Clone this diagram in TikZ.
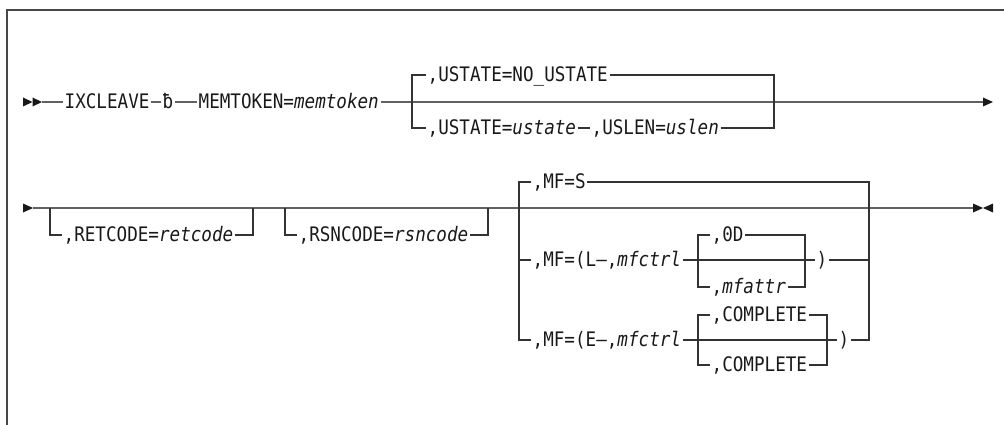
\documentclass[tikz,border=0pt]{standalone}
\usepackage{fontspec}
\setmonofont[FakeStretch=0.88]{DejaVu Sans Mono}
\usetikzlibrary{calc}
\tikzset{
  lbl/.style={font=\ttfamily\fontsize{20}{20}\selectfont, inner xsep=1.5pt, inner ysep=0pt,
    text height=13pt, text depth=0pt, anchor=west, text=black!90},
  mainln/.style={line width=2pt, draw=black!62},
  brln/.style={line width=1.4pt, draw=black!80},
  framel/.style={line width=2pt, draw=black!72},
  tri/.style={fill=black!90, draw=none},
}
\begin{document}
\begin{tikzpicture}[x=1pt,y=-1pt]
\useasboundingbox (0,0) rectangle (1004,425);
% frame
\coordinate (f0) at (6.5,10);
\coordinate (f1) at (1004,10);
\coordinate (f2) at (6.5,425);
\draw[framel] (f1) -- (f0) -- (f2);

% ---------- row 1 ----------
\fill[tri] (23,97.5) -- (32.5,102) -- (23,106.5) -- cycle;
\fill[tri] (32.5,97.5) -- (42,102) -- (32.5,106.5) -- cycle;
\coordinate (a1) at (42,102);
\node[lbl] (ixc) at (63,102) {IXCLEAVE};
\node[lbl] (bb) at (161,102) {ƀ};
\node[lbl] (mem) at (197,102) {MEMTOKEN=\textit{memtoken}};
\coordinate (e1) at (984,102);
\draw[mainln] (a1) -- (ixc.west);
\draw[mainln] (ixc.east) -- (bb.west);
\draw[mainln] (bb.east) -- (mem.west);
\draw[mainln] (mem.east) -- (e1);
\fill[tri] (983,97.5) -- (993,102) -- (983,106.5) -- cycle;

\coordinate (b1L) at (412,102);
\coordinate (b1R) at (774,102);
\node[lbl] (us1) at (426,75) {,USTATE=NO\_USTATE};
\node[lbl] (us2) at (426,128) {,USTATE=\textit{ustate}};
\node[lbl] (usl) at (590,128) {,USLEN=\textit{uslen}};
\draw[brln] (us1.west) -- (us1.west -| b1L) -- (b1L);
\draw[brln] (us1.east) -- (us1.east -| b1R) -- (b1R);
\draw[brln] (b1L) -- (b1L |- us2.west) -- (us2.west);
\draw[brln] (us2.east) -- (usl.west);
\draw[brln] (usl.east) -- (usl.east -| b1R) -- (b1R);

% ---------- row 2 ----------
\fill[tri] (23,203.5) -- (33,208) -- (23,212.5) -- cycle;
\coordinate (a2) at (33,208);
\coordinate (e2) at (973,208);
\draw[mainln] (a2) -- (e2);
\fill[tri] (973,203.5) -- (983,208) -- (973,212.5) -- cycle;
\fill[tri] (993,203.5) -- (983,208) -- (993,212.5) -- cycle;

% RETCODE
\coordinate (r1L) at (50,208);
\coordinate (r1R) at (253,208);
\node[lbl] (ret) at (62,235) {,RETCODE=\textit{retcode}};
\draw[brln] (r1L) -- (r1L |- ret.west) -- (ret.west);
\draw[brln] (ret.east) -- (ret.east -| r1R) -- (r1R);

% RSNCODE
\coordinate (r2L) at (285,208);
\coordinate (r2R) at (488,208);
\node[lbl] (rsn) at (297,235) {,RSNCODE=\textit{rsncode}};
\draw[brln] (r2L) -- (r2L |- rsn.west) -- (rsn.west);
\draw[brln] (rsn.east) -- (rsn.east -| r2R) -- (r2R);

% MF group
\coordinate (mL) at (519,208);
\coordinate (mR) at (869,208);
\node[lbl] (mfs) at (531,182) {,MF=S};
\node[lbl] (mfl) at (531,260) {,MF=(L–,\textit{mfctrl}};
\node[lbl] (mfe) at (531,340) {,MF=(E–,\textit{mfctrl}};
\draw[brln] (mfs.west) -- (mfs.west -| mL) -- (mfe.west -| mL) -- (mfe.west);
\draw[brln] (mfl.west -| mL) -- (mfl.west);

% nested L
\coordinate (nL1) at (698,260);
\coordinate (nR1) at (805,260);
\node[lbl] (od) at (710,235) {,0D};
\node[lbl] (mfa) at (710,287) {,\textit{mfattr}};
\node[lbl] (rp1) at (815,260) {)};
\draw[brln] (mfl.east) -- (nL1) -- (nR1) -- (rp1.west);
\draw[brln] (od.west) -- (od.west -| nL1) -- (mfa.west -| nL1) -- (mfa.west);
\draw[brln] (od.east) -- (od.east -| nR1) -- (mfa.east -| nR1) -- (mfa.east);

% nested E
\coordinate (nL2) at (698,340);
\coordinate (nR2) at (827,340);
\node[lbl] (c1) at (710,315) {,COMPLETE};
\node[lbl] (c2) at (710,365) {,COMPLETE};
\node[lbl] (rp2) at (837,340) {)};
\draw[brln] (mfe.east) -- (nL2) -- (nR2) -- (rp2.west);
\draw[brln] (c1.west) -- (c1.west -| nL2) -- (c2.west -| nL2) -- (c2.west);
\draw[brln] (c1.east) -- (c1.east -| nR2) -- (c2.east -| nR2) -- (c2.east);

\draw[brln] (mfs.east) -- (mfs.east -| mR) -- (rp2.east -| mR) -- (rp2.east);
\draw[brln] (rp1.east) -- (rp1.east -| mR);
\end{tikzpicture}
\end{document}
